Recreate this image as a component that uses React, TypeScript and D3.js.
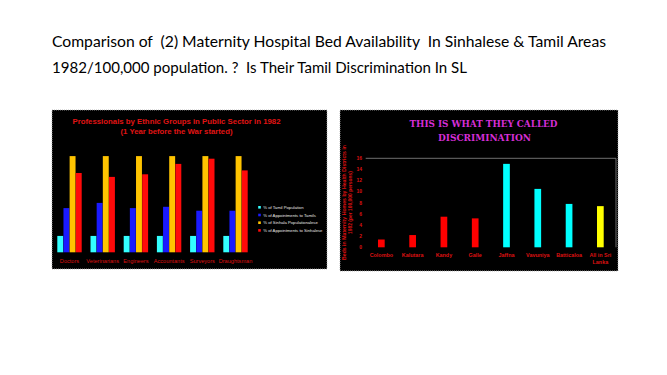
import React from 'react';
import * as d3 from 'd3';

const titleLines = [
  'Comparison of  (2) Maternity Hospital Bed Availability  In Sinhalese & Tamil Areas',
  '1982/100,000 population. ?  Is Their Tamil Discrimination In SL',
];

// Left chart data
const leftTitle = ['Professionals by Ethnic Groups in Public Sector in 1982', '(1 Year before the War started)'];
const profCategories = ['Doctors', 'Veterinarians', 'Engineers', 'Accountants', 'Surveyors', 'Draughtsman'];
const seriesNames = [
  '% of Tamil Population',
  '% of Appointments to Tamils',
  '% of Sinhala Populationalese',
  '% of Appointments to Sinhalese',
];
const tamilPop = [12.6, 12.6, 12.6, 12.6, 12.6, 12.6];
const tamilAppt = [34, 38, 34, 35, 32, 32];
const sinhalaPop = [74, 74, 74, 74, 74, 74];
const sinhalaAppt = [61, 58, 60, 68, 72, 63];
const seriesColors = ['#33ffff', '#1a1aff', '#ffc400', '#ff0a0a'];

// Right chart data
const rightTitle = ['THIS IS WHAT THEY CALLED', 'DISCRIMINATION'];
const districts = ['Colombo', 'Kalutara', 'Kandy', 'Galle', 'Jaffna', 'Vavuniya', 'Batticaloa', 'All in Sri Lanka'];
const beds = [1.4, 2.2, 5.5, 5.2, 15.0, 10.5, 7.8, 7.4];
const districtColors = ['#ff0000', '#ff0000', '#ff0000', '#ff0000', '#00ffff', '#00ffff', '#00ffff', '#ffff00'];
const bedTicks = [0, 2, 4, 6, 8, 10, 12, 14, 16];
const yAxisTitle = ['Beds in Maternity Homes by Health Districts in', '1982 (per 100,000 persons)'];

const seriesValues = [tamilPop, tamilAppt, sinhalaPop, sinhalaAppt];

export default function App() {
  // Left chart scales
  const x0 = d3.scaleBand<string>().domain(profCategories).range([52.9, 252.1]).paddingInner(0.265).paddingOuter(0.1325);
  const x1 = d3.scaleBand<string>().domain(seriesNames).range([0, x0.bandwidth()]).paddingInner(0.04);
  const yL = d3.scaleLinear().domain([0, 80]).range([252.3, 148.3]);

  // Right chart scales
  const xR = d3.scaleBand<string>().domain(districts).range([365.7, 616]).paddingInner(0.786).paddingOuter(0.393);
  const yR = d3.scaleLinear().domain([0, 16]).range([247.3, 158.3]);

  const splitLabel = (d: string) => (d === 'All in Sri Lanka' ? ['All in Sri', 'Lanka'] : [d]);

  return (
    <svg width={667} height={375} style={{ position: 'absolute', left: 0, top: 0, background: '#fff' }}>
      <rect x={0} y={0} width={667} height={375} fill="#fff" />
      {/* Slide title */}
      <text x={52} y={47} fontFamily="Lato, 'Open Sans', sans-serif" fontSize={15} fill="#000" textLength={554} lengthAdjust="spacingAndGlyphs" style={{ whiteSpace: 'pre' }}>
        {titleLines[0]}
      </text>
      <text x={52} y={73} fontFamily="Lato, 'Open Sans', sans-serif" fontSize={15} fill="#000" textLength={415} lengthAdjust="spacingAndGlyphs" style={{ whiteSpace: 'pre' }}>
        {titleLines[1]}
      </text>

      {/* Left chart */}
      <rect x={52} y={110} width={275} height={159} fill="#000" stroke="#aaa" strokeWidth={0.8} strokeDasharray="1,1" />
      <text x={176.5} y={124.3} textAnchor="middle" fontFamily="Arial, 'Liberation Sans', sans-serif" fontWeight="bold" fontSize={7.4} fill="#e01414" textLength={208} lengthAdjust="spacingAndGlyphs">
        {leftTitle[0]}
      </text>
      <text x={176.5} y={134.3} textAnchor="middle" fontFamily="Arial, 'Liberation Sans', sans-serif" fontWeight="bold" fontSize={7.4} fill="#e01414" textLength={112} lengthAdjust="spacingAndGlyphs">
        {leftTitle[1]}
      </text>
      {profCategories.map((c, i) => (
        <g key={c} transform={`translate(${x0(c)},0)`}>
          {seriesNames.map((s, j) => (
            <rect key={s} x={x1(s)} y={yL(seriesValues[j][i])} width={x1.bandwidth()} height={yL(0) - yL(seriesValues[j][i])} fill={seriesColors[j]} />
          ))}
          <text x={x0.bandwidth() / 2} y={262.5} textAnchor="middle" fontFamily="Arial, 'Liberation Sans', sans-serif" fontSize={5.6} fill="#dd1111">
            {c}
          </text>
        </g>
      ))}
      {seriesNames.map((s, j) => (
        <g key={s} transform={`translate(0,${207.3 + j * 7.7})`}>
          <rect x={258.2} y={-1.3} width={2.6} height={2.6} fill={seriesColors[j]} />
          <text x={263.3} y={1.6} fontFamily="Arial, 'Liberation Sans', sans-serif" fontSize={4.2} fill="#e6e6e6">
            {s}
          </text>
        </g>
      ))}

      {/* Right chart */}
      <rect x={340} y={110} width={278} height={161} fill="#000" stroke="#aaa" strokeWidth={0.8} strokeDasharray="1,1" />
      <text x={483.5} y={127.3} textAnchor="middle" fontFamily="'DejaVu Serif', 'Liberation Serif', serif" fontWeight="bold" fontSize={10} fill="#d62ed6" textLength={148} lengthAdjust="spacingAndGlyphs">
        {rightTitle[0]}
      </text>
      <text x={484.5} y={141.3} textAnchor="middle" fontFamily="'DejaVu Serif', 'Liberation Serif', serif" fontWeight="bold" fontSize={10} fill="#d62ed6" textLength={93} lengthAdjust="spacingAndGlyphs">
        {rightTitle[1]}
      </text>
      <line x1={365.7} x2={616} y1={yR(16)} y2={yR(16)} stroke="#8a8a8a" strokeWidth={0.8} />
      <line x1={616} x2={616} y1={yR(16)} y2={yR(0)} stroke="#8a8a8a" strokeWidth={0.8} />
      {bedTicks.map((t) => (
        <text key={t} x={362} y={yR(t) + 1.8} textAnchor="end" fontFamily="Arial, 'Liberation Sans', sans-serif" fontWeight="bold" fontSize={5} fill="#dd1111">
          {t}
        </text>
      ))}
      {yAxisTitle.map((line, i) => (
        <text key={i} transform={`translate(${345.8 + i * 6.6},202.5) rotate(-90)`} textAnchor="middle" fontFamily="Arial, 'Liberation Sans', sans-serif" fontWeight="bold" fontSize={5} fill="#dd1111" textLength={i === 0 ? 115 : 63} lengthAdjust="spacingAndGlyphs">
          {line}
        </text>
      ))}
      {districts.map((d, i) => (
        <g key={d}>
          <rect x={xR(d)} y={yR(beds[i])} width={xR.bandwidth()} height={yR(0) - yR(beds[i])} fill={districtColors[i]} />
          {splitLabel(d).map((ln, k) => (
            <text key={k} x={(xR(d) as number) + xR.bandwidth() / 2} y={257 + k * 7.2} textAnchor="middle" fontFamily="Arial, 'Liberation Sans', sans-serif" fontWeight="bold" fontSize={5.4} fill="#dd1111">
              {ln}
            </text>
          ))}
        </g>
      ))}
    </svg>
  );
}
